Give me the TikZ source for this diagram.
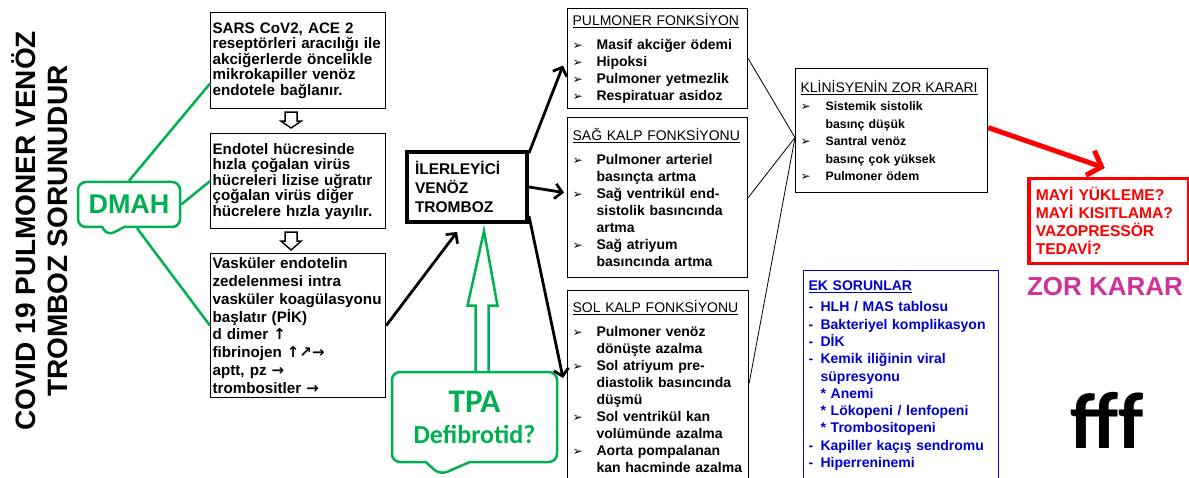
\documentclass[tikz,border=0pt]{standalone}
\usepackage{fontspec}
\setmainfont{Liberation Sans}
\newfontfamily\symfont{DejaVu Sans}
\newfontfamily\calibri{Carlito}
\usetikzlibrary{positioning,arrows.meta,calc,shapes.callouts}
\definecolor{dmahgreen}{HTML}{00B050}
\definecolor{decred}{HTML}{FF0000}
\definecolor{ekblue}{HTML}{0000CC}
\definecolor{ekframe}{HTML}{0000FF}
\definecolor{zormag}{HTML}{CC3399}

\newcommand{\bul}{\makebox[24pt][l]{\symfont\fontsize{12}{12}\selectfont\char"27A2}}
\newcommand{\hang}{\hspace*{24pt}}
\newcommand{\dsh}{\makebox[12pt][l]{-}}
\newcommand{\arr}[1]{{\symfont\bfseries\fontsize{15}{15}\selectfont #1}}

\begin{document}
\begin{tikzpicture}[x=1pt,y=-1pt,
    txtbox/.style={draw, line width=1.2pt, anchor=north west, inner xsep=2pt, inner ysep=3pt,
      text width=171pt, align=left},
    fbox/.style={draw, line width=1.2pt, anchor=north west, inner xsep=5pt, inner ysep=4pt,
      align=left, font=\fontsize{14}{17}\selectfont\bfseries},
    greenbubble/.style={rectangle callout, draw=dmahgreen, line width=2.5pt, rounded corners=8pt,
      text=dmahgreen, fill=white},
    greenline/.style={dmahgreen, line width=2.5pt},
    blackarrow/.style={line width=2.8pt, -{Straight Barb[length=7pt,width=15pt]}},
    thinline/.style={line width=0.8pt},
    hollow/.style={draw, line width=1.4pt, fill=white, line join=miter}
  ]
  \useasboundingbox (0,0) rectangle (1189,478);
  \clip (0,0) rectangle (1189,478);

  % title on the left
  \node[rotate=90, align=center, font=\fontsize{28}{32}\selectfont\bfseries] (title) at (40,231)
    {COVID 19 PULMONER VENÖZ\\TROMBOZ SORUNUDUR};

  % DMAH bubble
  \node[greenbubble, minimum width=102pt, minimum height=45pt, font=\fontsize{27}{27}\selectfont\bfseries,
    callout absolute pointer={(107,236)}, callout pointer width=22pt] (dmah) at (129,204.5) {DMAH};

  % left column
  \node[txtbox, minimum height=96pt, font=\fontsize{15.2}{15.5}\selectfont\bfseries] (sars) at (210,12)
    {SARS CoV2, ACE 2\\reseptörleri aracılığı ile\\akciğerlerde öncelikle\\mikrokapiller venöz\\endotele bağlanır.};
  \node[txtbox, minimum height=95pt, font=\fontsize{15.2}{15.5}\selectfont\bfseries] (endo) at (210,133)
    {Endotel hücresinde\\hızla çoğalan virüs\\hücreleri lizise uğratır\\çoğalan virüs diğer\\hücrelere hızla yayılır.};
  \node[txtbox, minimum height=144pt, font=\fontsize{15.2}{17.8}\selectfont\bfseries] (vask) at (210,253)
    {Vasküler endotelin\\zedelenmesi intra\\vasküler koagülasyonu\\başlatır (PİK)\\d dimer \arr{↑}\\fibrinojen \arr{↑↗→}\\aptt, pz \arr{→}\\trombositler \arr{→}};

  \draw[greenline] (dmah.north) -- ([yshift=-23pt]sars.west);
  \draw[greenline] (dmah.east) -- (endo.west);
  \draw[greenline] ([xshift=8pt]dmah.south) -- (vask.west);

  % hollow arrows between the steps
  \draw[hollow] ($(sars.south)+(-13,3)$) -- ++(0,9) -- ++(-4,0) -- ($(endo.north)+(-7,-5)$)
    -- ($(sars.south)+(3,12)$) -- ++(-4,0) -- ++(0,-9) -- cycle;
  \draw[hollow] ($(endo.south)+(-13,3)$) -- ++(0,9) -- ++(-4,0) -- ($(vask.north)+(-7,-3)$)
    -- ($(endo.south)+(3,12)$) -- ++(-4,0) -- ++(0,-9) -- cycle;

  % progressive thrombosis
  \node[draw, line width=4pt, anchor=north west, minimum width=120pt, minimum height=70pt,
    text width=104pt, align=left, inner xsep=8pt, font=\fontsize{15.5}{19}\selectfont\bfseries] (ivt) at (405,150)
    {İLERLEYİCİ\\VENÖZ\\TROMBOZ};

  % TPA bubble
  \node[greenbubble, minimum width=165pt, minimum height=90pt, align=center, font=\calibri\bfseries\fontsize{26}{31}\selectfont,
    callout absolute pointer={(440,475)}, callout pointer width=44pt] (tpa) at (474.5,417)
    {{\fontsize{33}{31}\selectfont TPA}\\Defibrotid?};
  \draw[hollow, draw=dmahgreen, line width=2.5pt] ($(tpa.north)+(1,0)$) -- ($(tpa.north)+(1,-65)$)
    -- ($(tpa.north)+(-7,-65)$) -- ([xshift=17pt,yshift=-7pt]ivt.south) -- ($(tpa.north)+(23,-65)$)
    -- ($(tpa.north)+(14,-65)$) -- ($(tpa.north)+(14,0)$);

  % organ function boxes
  \node[fbox, text width=170pt, minimum height=100pt] (pulm) at (567,8)
    {\underline{\mdseries PULMONER FONKSİYON}\\[7pt]
     \bul Masif akciğer ödemi\\
     \bul Hipoksi\\
     \bul Pulmoner yetmezlik\\
     \bul Respiratuar asidoz};
  \node[fbox, text width=170pt, minimum height=160pt] (sag) at (567,117)
    {\underline{\mdseries SAĞ KALP FONKSİYONU}\\[7pt]
     \bul Pulmoner arteriel\\
     \hang basınçta artma\\
     \bul Sağ ventrikül end-\\
     \hang sistolik basıncında\\
     \hang artma\\
     \bul Sağ atriyum\\
     \hang basıncında artma};
  \node[fbox, text width=171pt, minimum height=192pt] (sol) at (567,290)
    {\underline{\mdseries SOL KALP FONKSİYONU}\\[7pt]
     \bul Pulmoner venöz\\
     \hang dönüşte azalma\\
     \bul Sol atriyum pre-\\
     \hang diastolik basıncında\\
     \hang düşmü\\
     \bul Sol ventrikül kan\\
     \hang volümünde azalma\\
     \bul Aorta pompalanan\\
     \hang kan hacminde azalma};

  \draw[blackarrow] (vask.east) -- ([xshift=-10pt,yshift=-8pt]ivt.south);
  \draw[blackarrow] ([yshift=-3pt]ivt.north east) -- ([xshift=-4pt,yshift=-7pt]pulm.west);
  \draw[blackarrow] (ivt.east) -- ([xshift=-3pt,yshift=5pt]sag.west);
  \draw[blackarrow] ([yshift=8pt]ivt.south east) -- ([xshift=-4pt,yshift=-88pt]sol.north west);

  % clinician's decision
  \node[fbox, text width=182pt, minimum height=124pt, font=\fontsize{12.3}{17.5}\selectfont\bfseries] (klin) at (795,68)
    {{\fontsize{14}{17}\selectfont\underline{\mdseries KLİNİSYENİN ZOR KARARI}}\\[1pt]
     \makebox[25pt][l]{\symfont\fontsize{12}{12}\selectfont\char"27A2}Sistemik sistolik\\
     \hspace*{25pt}basınç düşük\\
     \makebox[25pt][l]{\symfont\fontsize{12}{12}\selectfont\char"27A2}Santral venöz\\
     \hspace*{25pt}basınç çok yüksek\\
     \makebox[25pt][l]{\symfont\fontsize{12}{12}\selectfont\char"27A2}Pulmoner ödem};

  \coordinate (meet) at ([yshift=-7pt]klin.west);
  \draw[thinline] (pulm.east) -- (meet);
  \draw[thinline] (sag.east) -- (meet);
  \draw[thinline] ([yshift=-93pt]sol.north east) -- (meet);

  % hard decision
  \node[draw=decred, line width=3.5pt, anchor=north west, minimum width=160pt, minimum height=85pt,
    text width=146pt, inner xsep=7pt, align=left, text=decred, font=\fontsize{15.6}{18}\selectfont\bfseries] (red) at (1027,177)
    {MAYİ YÜKLEME?\\MAYİ KISITLAMA?\\VAZOPRESSÖR\\TEDAVİ?};
  \draw[decred, line width=5pt, -{Straight Barb[length=12pt,width=26pt]}] ([yshift=3pt]klin.east) -- ([xshift=-4pt,yshift=9pt]red.north);
  \node[text=zormag, font=\fontsize{26}{26}\selectfont\bfseries] (zor) at (1105,287) {ZOR KARAR};

  % extra problems
  \node[draw=ekframe, line width=1.2pt, anchor=north west, minimum height=210pt, text width=185pt,
    inner xsep=5pt, align=left, text=ekblue, font=\fontsize{14}{17.3}\selectfont\bfseries] (ek) at (803,270)
    {\underline{EK SORUNLAR}\\[4pt]
     \dsh HLH / MAS tablosu\\
     \dsh Bakteriyel komplikasyon\\
     \dsh DİK\\
     \dsh Kemik iliğinin viral\\
     \hspace*{12pt}süpresyonu\\
     \hspace*{12pt}* Anemi\\
     \hspace*{12pt}* Lökopeni / lenfopeni\\
     \hspace*{12pt}* Trombositopeni\\
     \dsh Kapiller kaçış sendromu\\
     \dsh Hiperreninemi};

  \node[font=\calibri\bfseries\fontsize{80}{80}\selectfont] (fff) at (1107,420) {fff};

\end{tikzpicture}
\end{document}
